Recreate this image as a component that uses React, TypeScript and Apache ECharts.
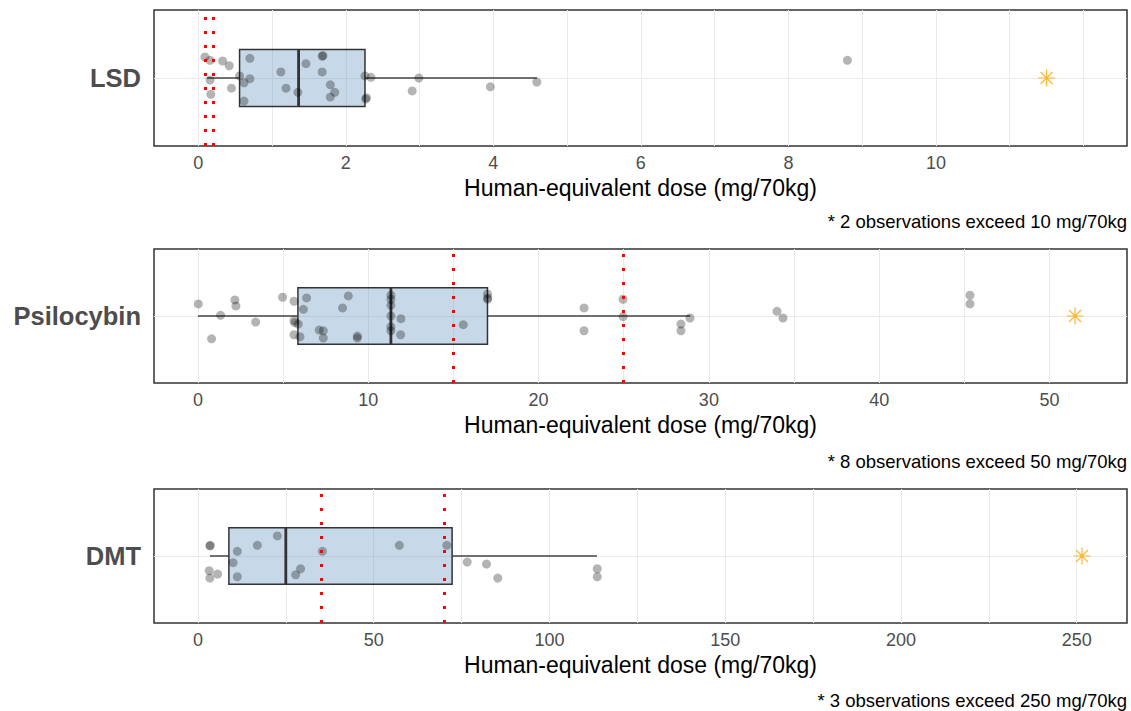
import React, { useEffect, useRef } from "react";
import * as echarts from "echarts";

const FONT = "'Liberation Sans', Arial, Helvetica, sans-serif";

// ---- data ----
const drugNames = ["LSD", "Psilocybin", "DMT"];

// box statistics: [lower whisker, Q1, median, Q3, upper whisker]
const lsdBox = [0.12, 0.56, 1.36, 2.26, 4.59];
const psiBox = [0, 5.87, 11.33, 17.0, 28.9];
const dmtBox = [3.4, 8.8, 25.0, 72.3, 113.5];

// observed doses and their vertical jitter (box spans roughly -0.42..0.42)
const lsdDoses = [0.09, 0.16, 0.33, 0.42, 0.16, 0.17, 0.45, 0.56, 0.62, 0.7, 0.7, 0.62, 1.12, 1.19, 1.35, 1.46, 1.68, 1.69, 1.68, 1.79, 1.85, 1.79, 2.26, 2.34, 2.28, 2.27, 2.99, 2.9, 3.96, 4.59, 8.8];
const lsdJitter = [0.31, 0.26, 0.25, 0.18, -0.03, -0.24, -0.15, 0.03, -0.07, 0.29, -0.01, -0.34, 0.09, -0.15, -0.21, 0.21, 0.32, 0.33, 0.09, -0.1, -0.21, -0.28, 0.03, 0.01, -0.29, -0.31, 0.0, -0.19, -0.13, -0.06, 0.26];

const psiDoses = [0.02, 1.33, 0.8, 2.17, 2.23, 3.39, 4.97, 5.64, 5.64, 5.7, 5.64, 5.89, 6.19, 6.38, 5.99, 7.12, 7.36, 7.36, 8.49, 8.83, 9.36, 9.36, 11.33, 11.33, 11.33, 11.33, 11.33, 11.33, 11.92, 11.9, 15.58, 17.0, 17.0, 17.02, 22.67, 22.67, 24.96, 24.96, 28.36, 28.36, 28.89, 34.0, 34.35, 45.33, 45.33];
const psiJitter = [0.18, 0.01, -0.34, 0.24, 0.15, -0.09, 0.28, 0.22, -0.07, -0.1, -0.28, -0.12, 0.1, 0.27, -0.31, -0.21, -0.22, -0.33, 0.12, 0.3, -0.3, -0.33, 0.31, 0.25, 0.16, 0.0, -0.16, -0.22, -0.04, -0.28, -0.13, 0.33, 0.25, 0.27, 0.12, -0.22, 0.25, -0.01, -0.12, -0.22, -0.03, 0.07, -0.03, 0.31, 0.18];

const dmtDoses = [3.4, 3.5, 3.2, 3.4, 5.6, 10.0, 11.2, 11.2, 16.9, 22.6, 27.8, 29.2, 35.4, 57.3, 70.8, 76.6, 82.1, 85.3, 113.6, 113.6];
const dmtJitter = [0.15, 0.16, -0.22, -0.33, -0.27, -0.1, 0.07, -0.31, 0.16, 0.3, -0.28, -0.19, 0.07, 0.16, 0.16, -0.09, -0.12, -0.33, -0.19, -0.31];

// reference dose lines (red dotted)
const lsdRefLines = [0.1, 0.2];
const psiRefLines = [15, 25];
const dmtRefLines = [35, 70];

// position of the "exceeds" asterisk marker
const lsdExceedMark = 11.5;
const psiExceedMark = 51.5;
const dmtExceedMark = 251.5;

// axis ranges, gridline and tick label values
const lsdRange = [-0.6, 12.59];
const psiRange = [-2.58, 54.55];
const dmtRange = [-12.5, 264.3];
const lsdGridVals = [0, 1, 2, 3, 4, 5, 6, 7, 8, 9, 10, 11, 12];
const psiGridVals = [0, 5, 10, 15, 20, 25, 30, 35, 40, 45, 50];
const dmtGridVals = [0, 25, 50, 75, 100, 125, 150, 175, 200, 225, 250];
const lsdTickLabels = [0, 2, 4, 6, 8, 10];
const psiTickLabels = [0, 10, 20, 30, 40, 50];
const dmtTickLabels = [0, 50, 100, 150, 200, 250];

const footnotes = [
  "* 2 observations exceed 10 mg/70kg",
  "* 8 observations exceed 50 mg/70kg",
  "* 3 observations exceed 250 mg/70kg",
];
const xTitle = "Human-equivalent dose (mg/70kg)";

const ASTERISK =
  "path://M-0.07,-1L0.07,-1L0.07,1L-0.07,1Z M-1,-0.07L1,-0.07L1,0.07L-1,0.07Z M-0.657,-0.757L0.757,0.657L0.657,0.757L-0.757,-0.657Z M-0.757,0.657L0.657,-0.757L0.757,-0.657L-0.657,0.757Z";

const BOX_HALF = 0.42;

const panels = [
  { box: lsdBox, doses: lsdDoses, jitter: lsdJitter, refs: lsdRefLines, mark: lsdExceedMark, range: lsdRange, grid: lsdGridVals, ticks: lsdTickLabels, top: 10, height: 136, noteTop: 212 },
  { box: psiBox, doses: psiDoses, jitter: psiJitter, refs: psiRefLines, mark: psiExceedMark, range: psiRange, grid: psiGridVals, ticks: psiTickLabels, top: 249, height: 134, noteTop: 452 },
  { box: dmtBox, doses: dmtDoses, jitter: dmtJitter, refs: dmtRefLines, mark: dmtExceedMark, range: dmtRange, grid: dmtGridVals, ticks: dmtTickLabels, top: 489, height: 134, noteTop: 691 },
];

function buildOption() {
  const grids: any[] = [];
  const xAxes: any[] = [];
  const yAxes: any[] = [];
  const series: any[] = [];
  const graphics: any[] = [];

  panels.forEach((p, i) => {
    grids.push({
      left: 154,
      width: 973,
      top: p.top,
      height: p.height,
      show: true,
      borderColor: "#333333",
      borderWidth: 1.5,
      backgroundColor: "transparent",
      containLabel: false,
    });
    xAxes.push({
      type: "value",
      gridIndex: i,
      min: p.range[0],
      max: p.range[1],
      axisLine: { show: false },
      axisTick: { show: false, customValues: p.grid },
      axisLabel: {
        customValues: p.ticks,
        fontSize: 18,
        color: "#4D4D4D",
        fontFamily: FONT,
        margin: 8,
      },
      splitLine: { show: true, lineStyle: { color: "#EBEBEB", width: 1 } },
      name: xTitle,
      nameLocation: "middle",
      nameGap: 30,
      nameTextStyle: { fontSize: 23, color: "#000000", fontFamily: FONT },
    });
    yAxes.push({
      type: "value",
      gridIndex: i,
      min: -1,
      max: 1,
      axisLine: { show: false },
      axisTick: { show: false, customValues: [0] },
      axisLabel: {
        customValues: [0],
        formatter: () => drugNames[i],
        fontSize: 25.5,
        fontWeight: "bold",
        color: "#4D4D4D",
        fontFamily: FONT,
        margin: 13,
      },
      splitLine: { show: true, lineStyle: { color: "#EBEBEB", width: 1 } },
    });

    series.push({
      type: "custom",
      xAxisIndex: i,
      yAxisIndex: i,
      silent: true,
      z: 2,
      data: [[...p.box, 0]],
      encode: { x: [0, 1, 2, 3, 4], y: 5 },
      renderItem: (params: any, api: any) => {
        const lo = api.coord([api.value(0), 0]);
        const q1 = api.coord([api.value(1), 0]);
        const med = api.coord([api.value(2), 0]);
        const q3 = api.coord([api.value(3), 0]);
        const hi = api.coord([api.value(4), 0]);
        const top = api.coord([api.value(1), BOX_HALF])[1];
        const bottom = api.coord([api.value(1), -BOX_HALF])[1];
        return {
          type: "group",
          children: [
            { type: "line", shape: { x1: lo[0], y1: lo[1], x2: q1[0], y2: q1[1] }, style: { stroke: "#444444", lineWidth: 1.5 } },
            { type: "line", shape: { x1: q3[0], y1: q3[1], x2: hi[0], y2: hi[1] }, style: { stroke: "#444444", lineWidth: 1.5 } },
            {
              type: "rect",
              shape: { x: q1[0], y: top, width: q3[0] - q1[0], height: bottom - top },
              style: { fill: "rgba(70,130,180,0.3)", stroke: "#333333", lineWidth: 1.5 },
            },
            { type: "line", shape: { x1: med[0], y1: top, x2: med[0], y2: bottom }, style: { stroke: "#333333", lineWidth: 2.8 } },
          ],
        };
      },
    });

    series.push({
      type: "scatter",
      xAxisIndex: i,
      yAxisIndex: i,
      silent: true,
      z: 3,
      symbol: "circle",
      symbolSize: 9,
      itemStyle: { color: "rgba(0,0,0,0.37)" },
      data: p.doses.map((d, k) => [d, p.jitter[k]]),
      markLine: {
        silent: true,
        symbol: ["none", "none"],
        label: { show: false },
        z: 6,
        lineStyle: { color: "#FF0000", width: 3, type: [3, 11], opacity: 1 },
        emphasis: { disabled: true },
        data: p.refs.map((v) => ({ xAxis: v })),
      },
    });

    series.push({
      type: "scatter",
      xAxisIndex: i,
      yAxisIndex: i,
      silent: true,
      z: 4,
      symbol: ASTERISK,
      symbolSize: 17,
      itemStyle: { color: "#FFA500" },
      data: [[p.mark, 0]],
    });

    graphics.push({
      type: "text",
      right: 4,
      top: p.noteTop,
      style: {
        text: footnotes[i],
        fontSize: 18.5,
        fontFamily: FONT,
        fill: "#000000",
      },
    });
  });

  return {
    animation: false,
    backgroundColor: "#ffffff",
    grid: grids,
    xAxis: xAxes,
    yAxis: yAxes,
    series,
    graphic: graphics,
  };
}

export default function App() {
  const ref = useRef<HTMLDivElement>(null);
  useEffect(() => {
    if (!ref.current) return;
    const chart = echarts.init(ref.current, undefined, { renderer: "svg" });
    chart.setOption(buildOption() as any);
    return () => chart.dispose();
  }, []);
  return (
    <div
      ref={ref}
      style={{ position: "absolute", left: 0, top: 0, width: 1131, height: 711 }}
    />
  );
}
